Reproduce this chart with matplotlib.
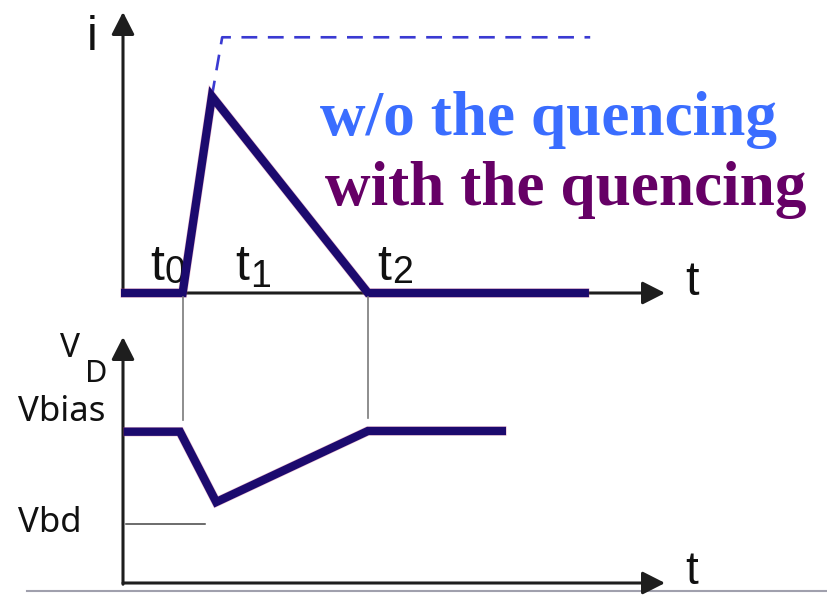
import matplotlib
matplotlib.use("Agg")
import matplotlib.pyplot as plt

# Current pulse (with quenching): time vs. current
t_quench = [0.04, 1.10, 1.64, 4.52, 8.52]
i_quench = [0.0, 0.0, 7.0, 0.0, 0.0]

# Current without quenching: rises and stays on
t_free = [1.64, 1.83, 8.62]
i_free = [7.0, 9.1, 9.1]

# Diode voltage with quenching
t_volt = [0.09, 1.05, 1.72, 4.52, 6.99]
v_volt = [6.15, 6.15, 3.29, 6.18, 6.18]

v_bias = 6.15
v_bd = 2.4
vbd_span = [0.05, 1.51]

# Event times marked between the two panels
t_marks = [1.10, 4.52]
t_labels = ["0", "1", "2"]

W, H = 827, 595
fig = plt.figure(figsize=(W / 100, H / 100), dpi=100)
fig.patch.set_facecolor("white")

ax_i = fig.add_axes([123 / W, (H - 293) / H, 542 / W, 281 / H])
ax_v = fig.add_axes([123 / W, (H - 583) / H, 542 / W, 246 / H])
for ax in (ax_i, ax_v):
    ax.set_xlim(0, 10)
    ax.set_ylim(0, 10)
    ax.axis("off")

navy = "#1c0a6e"
axis_col = "#1e1e1e"
sans = ["Liberation Sans", "DejaVu Sans"]
label_font = ["Noto Sans", "DejaVu Sans"]


def axis_arrow(ax, start, end):
    ax.annotate("", xy=end, xytext=start, xycoords="data",
                arrowprops=dict(arrowstyle="-|>,head_length=0.55,head_width=0.28",
                                mutation_scale=25, lw=2.2, color=axis_col,
                                shrinkA=0, shrinkB=0),
                annotation_clip=False)


# --- current panel ---
axis_arrow(ax_i, (0, -0.05), (0, 10))
axis_arrow(ax_i, (0, 0), (10, 0))
ax_i.plot(t_free, i_free, color="#3a3ad2", lw=1.9, ls=(0, (6, 4)),
          clip_on=False, zorder=2)
ax_i.plot(t_quench, i_quench, color="#d04a7a", lw=6.8, alpha=0.35,
          solid_joinstyle="miter", clip_on=False, zorder=3)
ax_i.plot(t_quench, i_quench, color=navy, lw=6.0,
          solid_joinstyle="miter", clip_on=False, zorder=4)

ax_i.text(-0.66, 8.65, "i", fontsize=35, family=sans, color="#111",
          ha="left", va="baseline")
ax_i.text(10.37, -0.07, "t", fontsize=35, family=sans, color="#111",
          ha="left", va="baseline")

sub_pos = [((0.50, 0.46), (0.77, 0.34)),
           ((2.07, 0.46), (2.35, 0.22)),
           ((4.70, 0.46), (4.96, 0.37))]
for lab, (tp, sp) in zip(t_labels, sub_pos):
    ax_i.text(tp[0], tp[1], "t", fontsize=36, family=sans, color="#111",
              ha="left", va="baseline")
    ax_i.text(sp[0], sp[1], lab, fontsize=27, family=sans, color="#111",
              ha="left", va="baseline")

serif = ["Liberation Serif", "DejaVu Serif"]
ax_i.text(3.63, 5.62, "w/o the quencing", fontsize=45.5, family=serif,
          weight="bold", color="#3a6dff", ha="left", va="baseline")
ax_i.text(3.73, 3.13, "with the quencing", fontsize=45.5, family=serif,
          weight="bold", color="#660066", ha="left", va="baseline")

# --- voltage panel ---
axis_arrow(ax_v, (0, -0.05), (0, 10))
axis_arrow(ax_v, (0, 0), (10, 0))
ax_v.plot(vbd_span, [v_bd, v_bd], color="#444", lw=1.1, clip_on=False)
ax_v.plot(t_volt, v_volt, color="#d04a7a", lw=6.8, alpha=0.35,
          solid_joinstyle="miter", clip_on=False, zorder=3)
ax_v.plot(t_volt, v_volt, color=navy, lw=6.0,
          solid_joinstyle="miter", clip_on=False, zorder=4)

# guide lines from the time axis down to the bias level
for tm, y_lo in zip(t_marks, [6.63, 6.71]):
    ax_v.plot([tm, tm], [y_lo, 11.63], color="#7a7a7a", lw=1.2,
              clip_on=False)

ax_v.text(-1.16, 9.19, "V", fontsize=24, family=label_font, color="#111",
          ha="left", va="baseline")
ax_v.text(-0.70, 8.17, "D", fontsize=22, family=label_font, color="#111",
          ha="left", va="baseline")
ax_v.text(-1.94, 6.59, "Vbias", fontsize=25, family=label_font, color="#111",
          ha="left", va="baseline")
ax_v.text(-1.94, 2.07, "Vbd", fontsize=25, family=label_font, color="#111",
          ha="left", va="baseline")
ax_v.text(10.37, -0.06, "t", fontsize=33, family=sans, color="#111",
          ha="left", va="baseline")

# thin rule along the bottom edge
ax_v.plot([-1.77, 13.0], [-0.33, -0.33], color="#a0a0ad", lw=1.5,
          clip_on=False)

fig.savefig("out.png", dpi=100, facecolor="white")
